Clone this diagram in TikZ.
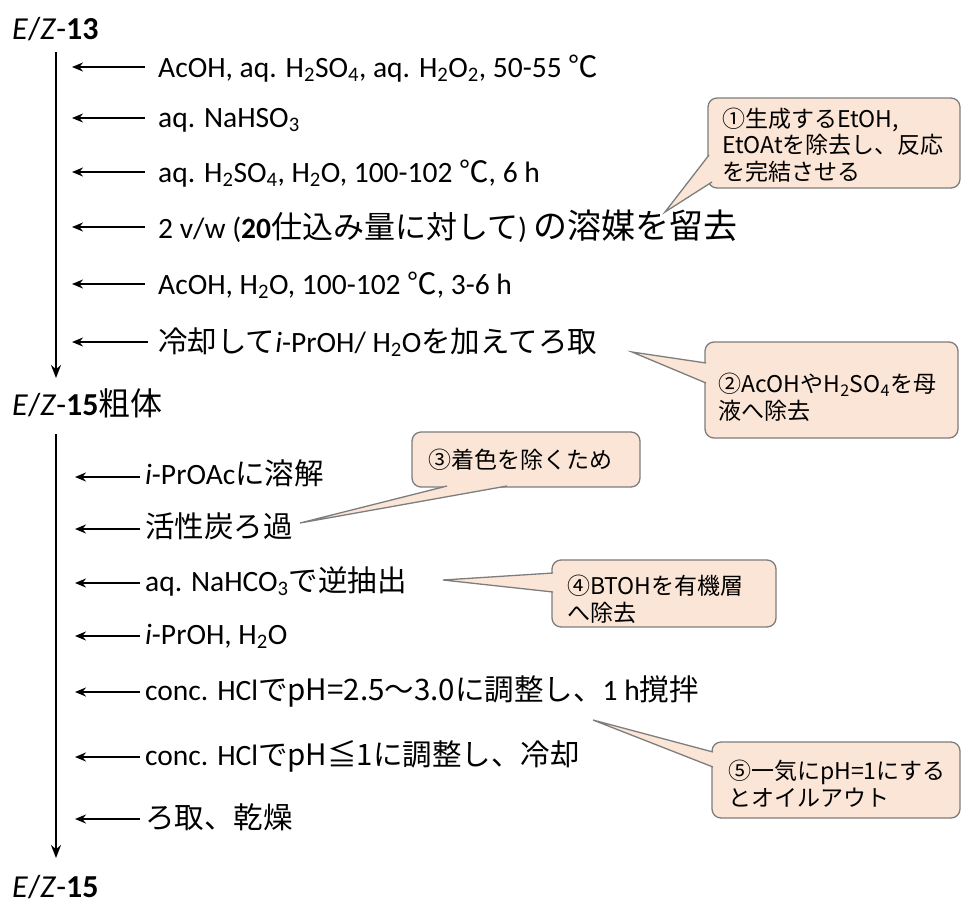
\documentclass[tikz,border=0pt]{standalone}
\usepackage{fontspec}
\setmainfont{Carlito}
\newfontfamily\jp{Noto Sans CJK JP}
\usetikzlibrary{arrows.meta}
\definecolor{peach}{RGB}{251,229,214}
\definecolor{cborder}{RGB}{125,125,125}
\newcommand{\J}[1]{{\jp #1}}
\newcommand{\sub}[1]{\textsubscript{#1}}
\begin{document}
\begin{tikzpicture}[x=1pt,y=-1pt,
  main/.style={anchor=base west, inner sep=0pt, font=\fontsize{29.5}{33}\selectfont},
  title/.style={anchor=base west, inner sep=0pt, font=\fontsize{32}{35}\selectfont},
  arr/.style={-{Stealth[length=11pt,width=9pt]}, line width=2.3pt},
  vline/.style={-{Stealth[length=13pt,width=10pt]}, line width=2.5pt},
  cbox/.style={draw=cborder, fill=peach, rounded corners=9pt, line width=1.3pt},
  ctext/.style={anchor=base west, inner sep=0pt, align=left, font=\jp\fontsize{23}{26.5}\selectfont},
  ]
\useasboundingbox (0,0) rectangle (963,905);

% ---------- first section ----------
\node[title] (s13) at (12,39) {\textit{E}/\textit{Z}-\textbf{13}};
\coordinate (v1a) at (56,52);
\coordinate (v1b) at (56,378);
\draw[vline] (v1a) -- (v1b);

\node[main] (t1) at (158,77) {AcOH, aq. H\sub{2}SO\sub{4}, aq. H\sub{2}O\sub{2}, 50-55 \J{℃}};
\node[main] (t2) at (158,127) {aq. NaHSO\sub{3}};
\node[main] (t3) at (158,182) {aq. H\sub{2}SO\sub{4}, H\sub{2}O, 100-102 \J{℃}, 6 h};
\node[main] (t4) at (158,238) {2 v/w (\textbf{20}\J{\fontsize{31}{34}\selectfont 仕込み量に対して}) \J{\fontsize{34}{37}\selectfont の溶媒を留去}};
\node[main] (t5) at (158,294) {AcOH, H\sub{2}O, 100-102 \J{℃}, 3-6 h};
\node[main] (t6) at (158,352) {\J{冷却して}\textit{i}-PrOH/ H\sub{2}O\J{を加えてろ取}};

\foreach \i/\y/\s in {1/67/145, 2/118/145, 3/172/145, 4/227/145, 5/284/145, 6/342/148}{
  \coordinate (a\i s) at (\s,\y);
  \coordinate (a\i e) at (72,\y);
  \draw[arr] (a\i s) -- (a\i e);
}

% ---------- second section ----------
\node[title] (s15c) at (12,415) {\textit{E}/\textit{Z}-\textbf{15}\J{粗体}};
\coordinate (v2a) at (56,434);
\coordinate (v2b) at (56,858);
\draw[vline] (v2a) -- (v2b);

\node[main] (u1) at (145,484) {\textit{i}-PrOAc\J{に溶解}};
\node[main] (u2) at (145,537) {\J{活性炭ろ過}};
\node[main] (u3) at (145,591) {aq. NaHCO\sub{3}\J{で逆抽出}};
\node[main] (u4) at (145,644) {\textit{i}-PrOH, H\sub{2}O};
\node[main] (u5) at (145,700) {conc. HCl\J{でpH=2.5～3.0に調整し、}1 h\J{撹拌}};
\node[main] (u6) at (145,765) {conc. HCl\J{でpH≦1に調整し、冷却}};
\node[main] (u7) at (145,828) {\J{ろ取、乾燥}};

\foreach \i/\y in {1/477, 2/529, 3/583, 4/636, 5/692, 6/757, 7/819}{
  \coordinate (b\i s) at (140,\y);
  \coordinate (b\i e) at (75,\y);
  \draw[arr] (b\i s) -- (b\i e);
}

\node[title] (s15) at (12,897) {\textit{E}/\textit{Z}-\textbf{15}};

% ---------- callouts ----------
% 1
\draw[cbox] (708,98) rectangle (960,188);
\coordinate (p1) at (665,212);
\fill[peach] (709,155) -- (p1) -- (712,182) -- (716,182) -- (716,155) -- cycle;
\draw[cborder, line width=1.3pt] (709,155) -- (p1) -- (712,182);
\node[ctext] (c1) at (722,180) {①生成するEtOH,\\EtOAtを除去し、反応\\を完結させる};

% 2
\draw[cbox] (705,342) rectangle (958,438);
\coordinate (p2) at (632,352);
\fill[peach] (706,363) -- (p2) -- (706,383) -- (712,383) -- (712,363) -- cycle;
\draw[cborder, line width=1.3pt] (706,363) -- (p2) -- (706,383);
\node[ctext] (c2) at (718,419) {②AcOHやH\textsubscript{2}SO\textsubscript{4}を母\\液へ除去};

% 3
\draw[cbox] (412,432) rectangle (640,487);
\coordinate (p3) at (300,523);
\fill[peach] (447,486) -- (p3) -- (507,486) -- (507,480) -- (447,480) -- cycle;
\draw[cborder, line width=1.3pt] (447,486) -- (p3) -- (507,486);
\node[ctext] (c3) at (428,468) {③着色を除くため};

% 4
\draw[cbox] (552,560) rectangle (776,627);
\coordinate (p4) at (443,580);
\fill[peach] (553,573) -- (p4) -- (553,592) -- (559,592) -- (559,573) -- cycle;
\draw[cborder, line width=1.3pt] (553,573) -- (p4) -- (553,592);
\node[ctext] (c4) at (567,621) {④BTOHを有機層\\へ除去};

% 5
\draw[cbox] (712,742) rectangle (960,818);
\coordinate (p5) at (593,720);
\fill[peach] (713,752) -- (p5) -- (713,767) -- (719,767) -- (719,752) -- cycle;
\draw[cborder, line width=1.3pt] (713,752) -- (p5) -- (713,767);
\node[ctext] (c5) at (728,806) {⑤一気にpH=1にする\\とオイルアウト};
\end{tikzpicture}
\end{document}
